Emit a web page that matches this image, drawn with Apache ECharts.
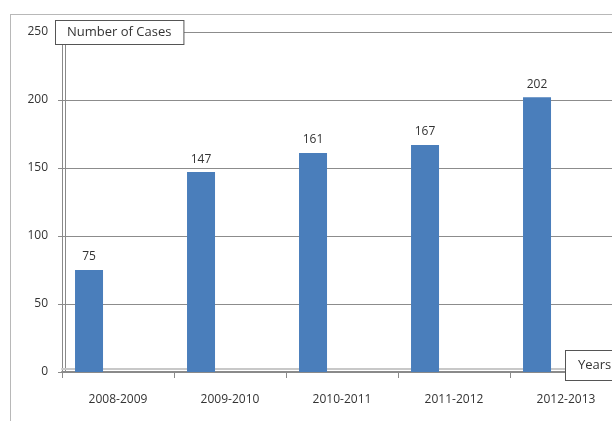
<!DOCTYPE html>
<html>
<head>
<meta charset="utf-8">
<script src="https://cdn.jsdelivr.net/npm/echarts@6/dist/echarts.min.js"></script>
<style>
  html, body { margin: 0; padding: 0; background: #fff; overflow: hidden; width: 612px; height: 421px; }
  .frame {
    position: absolute; left: 10px; top: 14px; width: 602px; height: 407px;
    border-left: 1px solid #b8b8b8; border-top: 1px solid #b8b8b8; box-sizing: border-box;
  }
  /* wider than the window: the source picture is cut off on the right */
  #chart { position: absolute; left: 0; top: 0; width: 640px; height: 421px; }
</style>
</head>
<body>
<div class="frame"></div>
<div id="chart"></div>
<script>
// data
const years = ['2008-2009', '2009-2010', '2010-2011', '2011-2012', '2012-2013'];
const cases = [75, 147, 161, 167, 202];
const yTicks = { min: 0, max: 250, interval: 50 };

let myChart = echarts.init(document.getElementById('chart'));
const font = 'Open Sans, Liberation Sans, sans-serif';

let option = {
  animation: false,
  textStyle: { fontFamily: font },
  grid: { left: 62, right: 18, top: 32, bottom: 49 },
  xAxis: {
    type: 'category',
    data: years,
    axisLine: {
      lineStyle: { color: '#8a8a8a', width: 2, shadowColor: '#c8c8c8', shadowOffsetY: -3 }
    },
    axisTick: { show: true, length: 6, lineStyle: { color: '#8a8a8a' } },
    axisLabel: { color: '#333', fontSize: 12, margin: 22 }
  },
  yAxis: {
    type: 'value',
    min: yTicks.min,
    max: yTicks.max,
    interval: yTicks.interval,
    axisLine: {
      show: true,
      lineStyle: { color: '#8a8a8a', width: 1, shadowColor: '#8a8a8a', shadowOffsetX: 3 }
    },
    axisTick: { show: true, length: 4, lineStyle: { color: '#8a8a8a' } },
    axisLabel: { color: '#333', fontSize: 12, margin: 14 },
    splitLine: { lineStyle: { color: '#8c8c8c', width: 1 } }
  },
  series: [
    {
      name: 'Number of Cases',
      type: 'bar',
      data: cases,
      barWidth: 28,
      barGap: '107%',
      itemStyle: { color: '#4a7ebb' },
      label: { show: true, position: 'top', color: '#333', fontSize: 12, distance: 7 }
    },
    {
      name: 'empty',
      type: 'bar',
      data: years.map(() => '-'),
      barWidth: 28
    }
  ],
  graphic: [
    {
      type: 'text', left: 55, top: 20, z: 100,
      style: {
        text: 'Number of Cases', fill: '#333', font: '13px ' + font,
        backgroundColor: '#fff', borderColor: '#555', borderWidth: 1,
        padding: [5, 12, 5, 11]
      }
    },
    {
      type: 'text', left: 565, top: 350, z: 100,
      style: {
        text: 'Years', fill: '#333', font: '13px ' + font,
        backgroundColor: '#fff', borderColor: '#555', borderWidth: 1,
        padding: [8, 20, 8, 12]
      }
    }
  ]
};
myChart.setOption(option);
</script>
</body>
</html>
